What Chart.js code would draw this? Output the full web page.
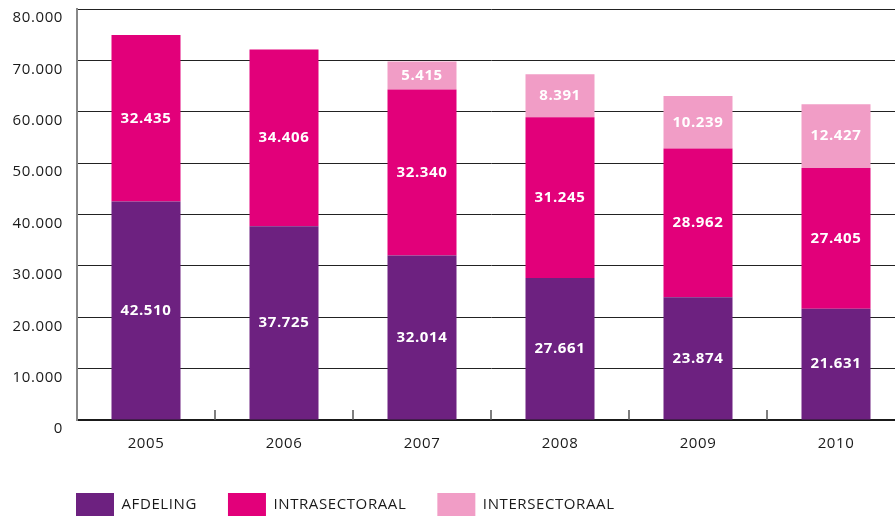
<!DOCTYPE html>
<html><head><meta charset="utf-8">
<script src="https://cdn.jsdelivr.net/npm/chart.js@4/dist/chart.umd.min.js"></script>
<style>
html,body{margin:0;padding:0;overflow:hidden;background:#fff;width:895px;height:518px}
canvas{display:block}
</style></head>
<body>
<canvas id="c" width="905" height="526" style="width:905px;height:526px"></canvas>
<script>
const categories = ['2005', '2006', '2007', '2008', '2009', '2010'];
const afdeling = [42510, 37725, 32014, 27661, 23874, 21631];
const intrasectoraal = [32435, 34406, 32340, 31245, 28962, 27405];
const intersectoraal = [null, null, 5415, 8391, 10239, 12427];
const seriesNames = ['AFDELING', 'INTRASECTORAAL', 'INTERSECTORAAL'];
const seriesColors = ['#6D2180', '#E2007A', '#F19DC6'];
const yMin = 0, yMax = 80000, yStep = 10000;

const fmt = v => String(v).replace(/\B(?=(\d{3})+(?!\d))/g, '.');
const FONT = '"Open Sans", "Noto Sans", sans-serif';

const spacingPlugin = {
  id: 'spacing',
  beforeUpdate(chart) { chart.ctx.letterSpacing = '0.6px'; },
  beforeDraw(chart) { chart.ctx.letterSpacing = '0.6px'; },
  afterLayout(chart) {
    // shift the legend so its first swatch lines up under the axis labels
    if (chart.legend) { chart.legend.left += 45; chart.legend.right += 45; }
  }
};

const valueLabels = {
  id: 'valueLabels',
  afterDatasetsDraw(chart) {
    const ctx = chart.ctx;
    ctx.save();
    ctx.font = 'bold 15px ' + FONT;
    ctx.fillStyle = '#ffffff';
    ctx.textAlign = 'center';
    ctx.textBaseline = 'middle';
    chart.data.datasets.forEach((ds, di) => {
      const meta = chart.getDatasetMeta(di);
      meta.data.forEach((bar, i) => {
        const v = ds.data[i];
        if (v == null) return;
        ctx.fillText(fmt(v), bar.x, (bar.y + bar.base) / 2);
      });
    });
    ctx.restore();
  }
};

const boundaryTicks = {
  id: 'boundaryTicks',
  afterDraw(chart) {
    const x = chart.scales.x, ctx = chart.ctx;
    const bottom = chart.chartArea.bottom;
    ctx.save();
    ctx.strokeStyle = '#555';
    ctx.lineWidth = 1.5;
    for (let i = 1; i < categories.length; i++) {
      const px = Math.round((x.getPixelForValue(i - 1) + x.getPixelForValue(i)) / 2);
      ctx.beginPath();
      ctx.moveTo(px, bottom);
      ctx.lineTo(px, bottom - 10);
      ctx.stroke();
    }
    ctx.restore();
  }
};

new Chart(document.getElementById('c'), {
  type: 'bar',
  data: {
    labels: categories,
    datasets: [
      { label: seriesNames[0], data: afdeling, backgroundColor: seriesColors[0], borderWidth: 0 },
      { label: seriesNames[1], data: intrasectoraal, backgroundColor: seriesColors[1], borderWidth: 0 },
      { label: seriesNames[2], data: intersectoraal, backgroundColor: seriesColors[2], borderWidth: 0 }
    ]
  },
  options: {
    responsive: false,
    animation: false,
    devicePixelRatio: 1,
    layout: { padding: { left: 0, top: 9, right: 0, bottom: 0 } },
    datasets: { bar: { barPercentage: 0.5, categoryPercentage: 1.0 } },
    scales: {
      x: {
        stacked: true,
        grid: { display: false, drawTicks: false },
        border: { display: true, color: '#1a1a1a', width: 2 },
        ticks: { color: '#1a1a1a', font: { family: FONT, size: 15 }, padding: 15, maxRotation: 0 },
        afterFit(s) { s.height = 42; s.paddingLeft = 0; s.paddingRight = 0; }
      },
      y: {
        stacked: true,
        min: yMin, max: yMax,
        grid: { color: '#222', lineWidth: 1, drawTicks: false },
        border: { display: true, color: '#888', width: 2 },
        ticks: {
          stepSize: yStep,
          color: '#1a1a1a',
          font: { family: FONT, size: 15 },
          padding: 14,
          labelOffset: 9,
          callback: v => fmt(v)
        },
        afterFit(s) { s.width = 77; s.paddingTop = 0; s.paddingBottom = 0; }
      }
    },
    plugins: {
      legend: {
        position: 'bottom',
        align: 'start',
        labels: {
          boxWidth: 38, boxHeight: 23, padding: 31,
          color: '#1a1a1a',
          font: { family: FONT, size: 15 }
        }
      },
      tooltip: { enabled: false }
    }
  },
  plugins: [spacingPlugin, valueLabels, boundaryTicks]
});
</script>
</body></html>
